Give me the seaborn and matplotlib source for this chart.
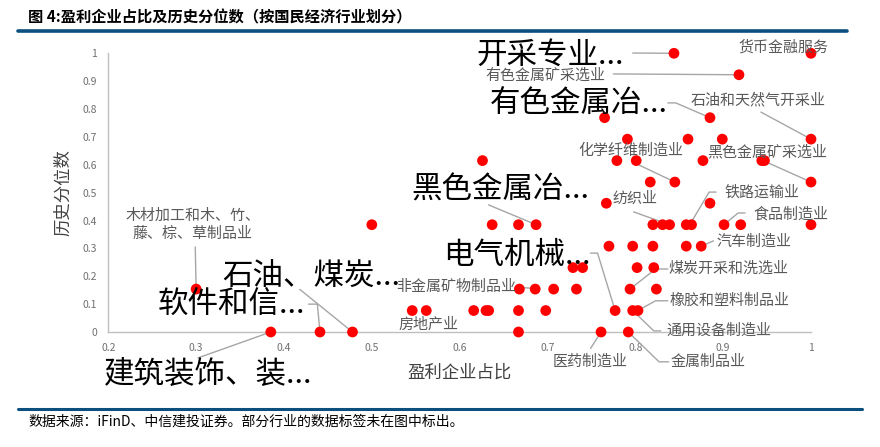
import matplotlib.pyplot as plt
import pandas as pd
import seaborn as sns
from matplotlib.lines import Line2D

# 盈利企业占比 (x) 与 历史分位数 (y)，每个点代表一个国民经济行业
profit_share = [
    0.844, 1.000,
    0.918,
    0.765, 0.885,
    0.791, 0.860, 0.899, 1.000,
    0.626, 0.779, 0.801, 0.877, 0.944, 0.947,
    0.817, 0.845, 1.000,
    0.767, 0.885,
    0.500, 0.637, 0.667, 0.687, 0.820, 0.831, 0.839, 0.858, 0.864, 0.901, 0.920, 1.000,
    0.770, 0.797, 0.820, 0.858, 0.875,
    0.729, 0.740, 0.802, 0.821,
    0.300, 0.668, 0.686, 0.707, 0.733, 0.794, 0.824,
    0.546, 0.562, 0.616, 0.630, 0.633, 0.667, 0.698, 0.777, 0.797, 0.803,
    0.385, 0.441, 0.478, 0.667, 0.761, 0.792,
]
hist_quantile = (
    [1.000] * 2 + [0.923] * 1 + [0.769] * 2 + [0.692] * 4 + [0.615] * 6
    + [0.538] * 3 + [0.462] * 2 + [0.385] * 12 + [0.308] * 5 + [0.231] * 4
    + [0.154] * 7 + [0.077] * 10 + [0.000] * 6
)

x_ticks = [0.2, 0.3, 0.4, 0.5, 0.6, 0.7, 0.8, 0.9, 1.0]
y_ticks = [0, 0.1, 0.2, 0.3, 0.4, 0.5, 0.6, 0.7, 0.8, 0.9, 1.0]

# 数据标签: (文本, 标签x, 标签y, 大字体?, 水平对齐, 引线路径 - 末点为对应数据点)
labels = [
    ("开采专业...", 0.619, 0.994, True, "left", [(0.797, 1.001), (0.844, 1.000)]),
    ("货币金融服务", 0.917, 1.023, False, "left", []),
    ("有色金属矿采选业", 0.629, 0.919, False, "left", [(0.775, 0.926), (0.918, 0.923)]),
    ("有色金属冶...", 0.634, 0.818, True, "left",
     [(0.837, 0.822), (0.846, 0.822), (0.885, 0.769)]),
    ("石油和天然气开采业", 0.863, 0.832, False, "left", [(0.943, 0.789), (1.000, 0.692)]),
    ("化学纤维制造业", 0.735, 0.653, False, "left", [(0.797, 0.610), (0.845, 0.538)]),
    ("黑色金属矿采选业", 0.882, 0.646, False, "left", [(0.949, 0.610), (1.000, 0.538)]),
    ("黑色金属冶...", 0.545, 0.510, True, "left", [(0.633, 0.456), (0.687, 0.385)]),
    ("纺织业", 0.774, 0.477, False, "left", [(0.798, 0.431), (0.839, 0.385)]),
    ("铁路运输业", 0.901, 0.499, False, "left",
     [(0.892, 0.502), (0.884, 0.502), (0.862, 0.385)]),
    ("食品制造业", 0.934, 0.423, False, "left",
     [(0.925, 0.427), (0.917, 0.427), (0.901, 0.385)]),
    ("汽车制造业", 0.892, 0.323, False, "left", [(0.889, 0.327), (0.875, 0.308)]),
    ("煤炭开采和洗选业", 0.838, 0.226, False, "left",
     [(0.837, 0.226), (0.823, 0.226), (0.794, 0.154)]),
    ("橡胶和塑料制品业", 0.839, 0.112, False, "left",
     [(0.837, 0.112), (0.823, 0.112), (0.803, 0.077)]),
    ("通用设备制造业", 0.835, 0.004, False, "left",
     [(0.829, 0.004), (0.821, 0.004), (0.797, 0.077)]),
    ("金属制品业", 0.840, -0.107, False, "left",
     [(0.838, -0.107), (0.827, -0.107), (0.792, 0.000)]),
    ("医药制造业", 0.706, -0.107, False, "left", [(0.749, -0.059), (0.761, 0.000)]),
    ("电气机械...", 0.581, 0.273, True, "left",
     [(0.749, 0.283), (0.757, 0.283), (0.777, 0.077)]),
    ("非金属矿物制品业", 0.528, 0.163, False, "left", [(0.664, 0.161), (0.682, 0.157)]),
    ("房地产业", 0.530, 0.025, False, "left", []),
    ("石油、煤炭...", 0.330, 0.197, True, "left", [(0.418, 0.153), (0.478, 0.000)]),
    ("软件和信...", 0.256, 0.100, True, "left",
     [(0.428, 0.100), (0.438, 0.100), (0.441, 0.000)]),
    ("建筑装饰、装...", 0.195, -0.154, True, "left", [(0.302, -0.093), (0.385, 0.000)]),
    ("木材加工和木、竹、\n藤、棕、草制品业", 0.296, 0.384, False, "center",
     [(0.299, 0.305), (0.300, 0.154)]),
]

df = pd.DataFrame({"盈利企业占比": profit_share, "历史分位数": hist_quantile})

sns.set_theme(style="white")
plt.rcParams["font.family"] = ["Noto Sans CJK SC", "DejaVu Sans"]
plt.rcParams["axes.unicode_minus"] = False

W, H = 880, 447
fig = plt.figure(figsize=(W / 100, H / 100), dpi=100)
ax = fig.add_axes([108.3 / W, 1 - 332 / H, (811 - 108.3) / W, (332 - 53.3) / H])

sns.scatterplot(data=df, x="盈利企业占比", y="历史分位数", ax=ax, color="#FF0000",
                s=60, edgecolor="none", linewidth=0, zorder=3, clip_on=False)

ax.set_xlim(0.2, 1.0)
ax.set_ylim(0, 1.0)
ax.set_xticks(x_ticks)
ax.set_xticklabels([f"{t:g}" for t in x_ticks])
ax.set_yticks(y_ticks)
ax.set_yticklabels([f"{t:g}" for t in y_ticks])
ax.tick_params(axis="both", direction="in", length=3, width=0.8, color="#BFBFBF",
               labelsize=7.5, labelcolor="#6F6F6F", pad=8)
for side in ["top", "right"]:
    ax.spines[side].set_visible(False)
for side in ["left", "bottom"]:
    ax.spines[side].set_color("#BFBFBF")
    ax.spines[side].set_linewidth(1)

ax.set_xlabel("")
ax.set_ylabel("")
fig.text(460 / W, 1 - 373 / H, "盈利企业占比", fontsize=12.5, color="#404040",
         ha="center", va="center")
fig.text(63 / W, 1 - 193 / H, "历史分位数", fontsize=12.5, color="#404040",
         ha="center", va="center", rotation=90)

for text, tx, ty, big, ha, path in labels:
    if big:
        ax.text(tx, ty, text, fontsize=22, color="black", ha=ha, va="center",
                zorder=5, clip_on=False)
    else:
        ax.text(tx, ty, text, fontsize=10.8, color="#595959", ha=ha, va="center",
                zorder=5, clip_on=False, linespacing=1.35)
    if path:
        xs = [p[0] for p in path]
        ys = [p[1] for p in path]
        ax.plot(xs, ys, color="#A6A6A6", lw=1, zorder=2, clip_on=False)

# 标题与来源
fig.text(28 / W, 1 - 17 / H, "图 4:盈利企业占比及历史分位数（按国民经济行业划分）",
         fontsize=11, fontweight="bold", color="black", ha="left", va="center")
fig.add_artist(Line2D([18 / W, 847 / W], [1 - 31 / H, 1 - 31 / H],
                      transform=fig.transFigure, color="#0B4F7E", lw=2.6))
fig.add_artist(Line2D([18 / W, 862 / W], [1 - 408.7 / H, 1 - 408.7 / H],
                      transform=fig.transFigure, color="#0B4F7E", lw=2.2))
fig.text(28 / W, 1 - 422 / H, "数据来源：iFinD、中信建投证券。部分行业的数据标签未在图中标出。",
         fontsize=10, color="black", ha="left", va="center", style="italic")

fig.savefig("out.png", dpi=100)
